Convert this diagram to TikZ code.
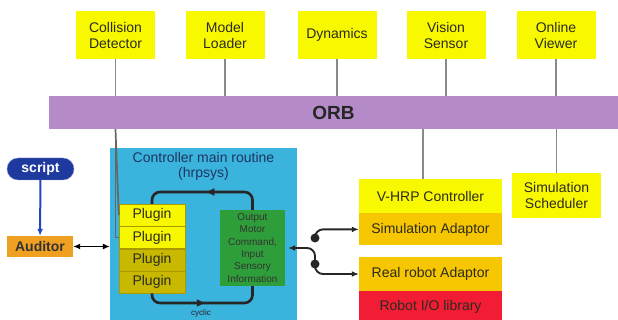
\documentclass[tikz,border=0pt]{standalone}
\usepackage{fontspec}
\setmainfont{Liberation Sans}
\usetikzlibrary{arrows.meta,positioning,decorations.markings,calc}
\definecolor{cMod}{HTML}{F8F800}
\definecolor{cText}{HTML}{2B2B20}
\definecolor{cLink}{HTML}{8A8A8A}
\definecolor{cOrb}{HTML}{B58AC8}
\definecolor{cCtrl}{HTML}{3AB3DD}
\definecolor{cCtrlText}{HTML}{1F3560}
\definecolor{cPlugA}{HTML}{F7F700}
\definecolor{cPlugB}{HTML}{C9B800}
\definecolor{cPlugEdge}{HTML}{A89A00}
\definecolor{cGreen}{HTML}{2E9E3A}
\definecolor{cGold}{HTML}{F6C600}
\definecolor{cRed}{HTML}{F21C34}
\definecolor{cAud}{HTML}{F0A020}
\definecolor{cScript}{HTML}{1E3A9E}
\definecolor{cScriptArrow}{HTML}{2246C0}

\begin{document}
\begin{tikzpicture}[
  x=1pt, y=-1pt,
  font=\fontsize{14}{16}\selectfont,
  >={Latex[length=7pt,width=6pt]},
  modbox/.style={fill=cMod, text=cText, align=center, inner sep=0pt,
              minimum width=79pt, minimum height=48pt},
  link/.style={draw=cLink, line width=1.7pt},
  plugA/.style={draw=cPlugEdge, fill=cPlugA, text=cText, inner sep=0pt,
              minimum width=66pt, minimum height=22pt},
  plugB/.style={plugA, fill=cPlugB},
  layer/.style={text=cText, inner sep=0pt, minimum width=143pt},
  midarrow/.style={postaction={decorate}, decoration={markings,
              mark=at position 0.5 with {\arrow{Latex[length=9pt,width=8pt]}}}},
  cyc/.style={draw=black!85, line width=2.6pt, rounded corners=8pt, midarrow},
  sw/.style={draw=black!85, line width=1.9pt, rounded corners=8pt},
]
\useasboundingbox (0,0) rectangle (618,320);

% ---- modules on top of the ORB ----
\node[modbox] (cd) at (115.5,35) {Collision\\Detector};
\node[modbox] (ml) at (225,35) {Model\\Loader};
\node[modbox] (dyn) at (337,35) {Dynamics};
\node[modbox] (vs) at (446,35) {Vision\\Sensor};
\node[modbox] (ov) at (556,35) {Online\\Viewer};

\node[fill=cOrb, inner sep=0pt, minimum width=569pt, minimum height=33pt,
      font=\fontsize{19}{20}\selectfont\bfseries, text=black!85] (orb) at (333.5,112.5) {ORB};

\draw[link] (cd) -- (cd |- orb.north);
\draw[link] (ml) -- (ml |- orb.north);
\draw[link] (dyn) -- (dyn |- orb.north);
\draw[link] (vs) -- (vs |- orb.north);
\draw[link] (ov) -- (ov |- orb.north);

% ---- controller main routine ----
\node[fill=cCtrl, inner sep=0pt, minimum width=187pt, minimum height=172pt] (ctrl) at (203.5,234) {};
\node[below=4pt of ctrl.north, inner sep=0pt, align=center, text=cCtrlText,
      font=\fontsize{14}{15}\selectfont] (title) {Controller main routine\\(hrpsys)};

\node[plugA] (pl1) at (152,215) {Plugin};
\node[plugA, below=0pt of pl1] (pl2) {Plugin};
\node[plugB, below=0pt of pl2] (pl3) {Plugin};
\node[plugB, below=0pt of pl3] (pl4) {Plugin};

\node[fill=cGreen, inner sep=0pt, minimum width=65pt, minimum height=76pt, align=center,
      text=black!80, font=\fontsize{10}{12.3}\selectfont] (grn) at (252.5,248)
  {Output\\Motor\\Command,\\Input\\Sensory\\Information};

\coordinate (top lane) at (200,192);
\coordinate (bot lane) at (200,303);
\draw[cyc] (grn.north) -- (grn.north |- top lane) -- (pl1.north |- top lane) -- (pl1.north);
\draw[cyc] (pl4.south) -- (pl4.south |- bot lane) -- (grn.south |- bot lane) -- (grn.south);
\node[font=\fontsize{8}{9}\selectfont, text=black!85] (cyclic) at (201,313) {cyclic};

% collision detector reaches the plugins
\draw[link, draw=black!60] (orb.south -| cd) |- (pl2.west);
\draw[link, draw=black!60] (orb.south -| cd |- pl1.west) -- (pl1.west);

% ---- script and auditor ----
\node[fill=cScript, draw=cScriptArrow!60, rounded corners=11pt, inner sep=0pt,
      minimum width=67pt, minimum height=22pt, text=white, font=\fontsize{14}{16}\selectfont\bfseries]
  (script) at (40.5,169) {script};
\node[fill=cAud, inner sep=0pt, minimum width=66pt, minimum height=21pt,
      text=black!80, font=\fontsize{14}{16}\selectfont\bfseries] (aud) at (40,246.5) {Auditor};
\draw[->, draw=cScriptArrow, line width=2pt] (script) -- (aud);
\draw[<->, line width=1.2pt] (aud.east) -- (ctrl.west |- aud.east);

% ---- V-HRP controller stack ----
\node[layer, fill=cMod, minimum height=34pt] (vhrp) at (430.5,196) {V-HRP Controller};
\node[layer, fill=cGold, minimum height=32pt, below=0pt of vhrp] (sima) {Simulation Adaptor};
\node[layer, fill=cGold, minimum height=34pt] (rra) at (430.5,274) {Real robot Adaptor};
\node[layer, fill=cRed, minimum height=30pt, below=0pt of rra] (rio) {Robot I/O library};

\node[modbox, minimum width=89pt, minimum height=45pt] (sched) at (556.5,195.5) {Simulation\\Scheduler};

\coordinate (vtap) at (423,129);
\draw[link] (vtap) -- (vtap |- vhrp.north);
\draw[link] (orb.south -| sched.north) -- (sched.north);

% ---- adaptor switch ----
\coordinate (sw top) at (315,238);
\coordinate (sw bot) at (315,264);
\draw[sw, <-, shorten <=3pt] (grn.east) -| (sw bot);
\draw[sw, ->] (sw bot) |- (rra.west);
\draw[sw, ->] (sw top) |- (sima.west);
\fill[black!85] (sw top) circle (4.5pt);
\fill[black!85] (sw bot) circle (4.5pt);
\end{tikzpicture}
\end{document}
